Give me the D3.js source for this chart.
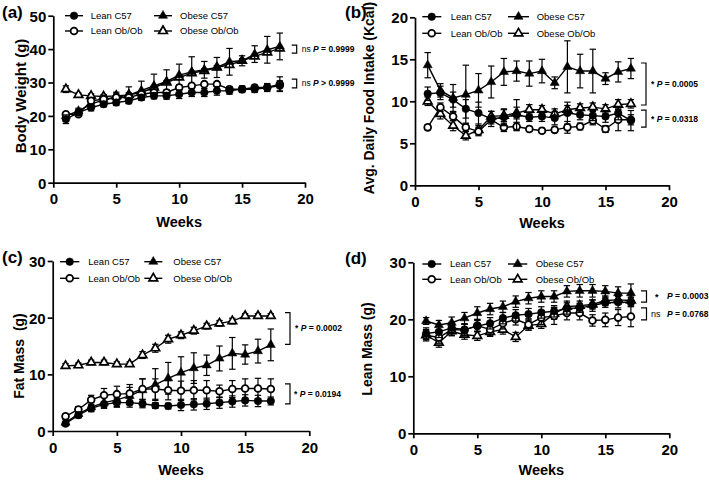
<!DOCTYPE html>
<html><head><meta charset="utf-8">
<script src="https://cdn.jsdelivr.net/npm/d3@7"></script>
<style>body{margin:0;background:#fff}svg{display:block;font-family:"Liberation Sans",Arial,sans-serif}</style>
</head><body><svg id="c" width="709" height="480"></svg>
<script>
const weeks18 = [1,2,3,4,5,6,7,8,9,10,11,12,13,14,15,16,17,18];
const weeks17 = [1,2,3,4,5,6,7,8,9,10,11,12,13,14,15,16,17];
const seriesNames = ["Lean C57","Lean Ob/Ob","Obese C57","Obese Ob/Ob"];
const xTicks = [0,5,10,15,20];

// (a) Body weight
const aLeanC57      = [19,21,22.5,23.5,24,24.5,25.5,26,26,26.5,27,27,27.5,27.5,28,28,28.5,29];
const aLeanC57Err   = [1.3,0.9,1,0.8,0.9,0.8,0.8,0.9,1,1.3,1.2,1.2,1.3,1,1,1,1.2,1.5];
const aLeanOb       = [20.5,20.5,24.5,25,25.5,25.5,26.5,27,27,28.5,29,29.5,29.5,28,28,28.5,28.5,29.5];
const aLeanObErr    = [0.6,0.6,0.8,0.8,0.8,0.8,0.8,0.8,0.8,0.8,0.6,0.6,0.6,0.8,0.8,0.7,0.8,2.2];
const aObeseC57     = [20,21.5,23.5,24.8,25.6,26.2,27.6,29,30.3,32.2,33.2,33.8,34.5,36.2,36.5,38.5,39.8,40.8];
const aObeseC57Err  = [1,0.8,1.2,1.3,1.5,2.5,2.8,3.5,3.5,3.3,4.5,2.5,3,4,1.5,2.5,4,4];
const aObeseOb      = [28,26.3,26,25.8,26,26.3,27,28.5,30,31.5,32.8,33.5,34.5,35.3,36.5,37.8,39,40.2];
const aObeseObErr   = [1,0.5,0.6,0.6,0.6,0.6,0.6,0.6,0.6,0.6,0.6,0.6,0.6,0.6,0.6,0.6,0.6,0.6];
const aYTicks = [0,10,20,30,40,50];

// (b) Avg. daily food intake
const bLeanC57      = [10.9,11,10.2,9.1,8.6,7.9,8.1,8.4,8.1,8.2,8.0,8.6,8.4,8.3,8.2,8.6,7.7];
const bLeanC57Err   = [0.8,0.8,0.9,1.1,1.3,0.9,1.0,1.8,0.5,0.6,0.8,1.3,0.6,0.6,0.7,0.8,1.2];
const bLeanOb       = [6.9,9.3,8.2,6.9,6.4,7.8,6.9,7.0,6.7,6.5,6.6,6.9,7.0,7.7,6.7,7.8,7.8];
const bLeanObErr    = [0.3,0.5,0.5,0.5,0.5,0.5,0.5,0.5,0.3,0.3,0.3,0.7,0.4,0.5,0.4,1.3,0.6];
const bObeseC57     = [14.3,11.3,10.4,10.8,11.3,12.3,13.5,13.6,13.3,13.6,12.2,14.1,13.6,13.6,12.7,13.5,13.9];
const bObeseC57Err  = [1.5,0.8,1.6,3.5,2,1.9,1.6,1.2,1.5,1.4,0.7,3.1,2,2.6,0.7,1.2,1.2];
const bObeseOb      = [10,8.5,7.1,5.9,6.6,8.2,8.3,8.6,9.0,9.0,8.5,9.0,9.2,9.3,9.1,9.6,9.7];
const bObeseObErr   = [0.5,0.6,0.6,0.5,0.5,0.6,0.7,0.7,0.6,0.5,0.6,0.5,0.5,0.5,0.5,0.6,0.5];
const bYTicks = [0,5,10,15,20];

// (c) Fat mass
const cLeanC57      = [1.3,2.8,4,4.7,5,5,4.8,4.5,4.4,4.6,4.7,4.8,5,5.2,5.4,5.3,5.3];
const cLeanC57Err   = [0.3,0.5,0.5,0.5,0.8,0.8,0.7,0.5,0.5,1,1,1,1,1,1,1,0.7];
const cLeanOb       = [2.6,3.8,5.5,6.3,6.5,6.6,7.4,7.4,7.2,7.1,7.2,7.2,7.0,7.4,7.5,7.5,7.4];
const cLeanObErr    = [0.4,0.5,0.8,1.2,1.4,1.6,1.8,1.8,1.7,1.7,1.7,1.7,1.1,1.5,1.7,1.8,1.8];
const cObeseC57     = [1.5,3,4.2,5,5.5,6.2,7.2,8.2,9.3,10.3,11.1,11.6,12.8,13.7,13.5,14.1,15.2];
const cObeseC57Err  = [0.5,0.6,0.8,1,1.2,1.5,2,2.8,2.8,2.8,2.7,1.8,2.2,2.8,1.7,2.1,2.8];
const cObeseOb      = [11.5,11.6,12.1,12.1,11.8,11.8,13.4,14.6,16.2,16.9,17.7,18.5,19,19.4,20.3,20.3,20.3];
const cObeseObErr   = [0.4,0.4,0.4,0.4,0.4,0.4,0.6,0.7,0.7,0.6,0.6,0.5,0.5,0.5,0.4,0.4,0.4];
const cYTicks = [0,10,20,30];

// (d) Lean mass
const dLeanC57      = [17.5,17.8,18.5,18.2,18.8,19.3,20.2,20.7,20.9,21.2,21.4,21.9,22,22.4,22.9,23,23];
const dLeanC57Err   = [1,1,1,1,1,1,1,1,1,1,1,1,0.8,1,0.8,1,0.8];
const dLeanOb       = [17.2,16.8,18.2,18.1,18.9,18.2,19.3,20,19.1,20.3,20.6,21.1,21.1,19.8,19.9,20.3,20.5];
const dLeanObErr    = [1,1,1,1,1,1,1,1,1,1.2,1.5,1.2,1.2,1,1.2,1.4,1.8];
const dObeseC57     = [19.7,19.0,19.4,20.2,21.1,21.8,22.2,23.1,23.7,24.0,24.0,24.9,25.0,25.0,24.9,24.6,24.6];
const dObeseC57Err  = [0.6,0.8,1.0,1.0,1.1,1.0,1.0,1.0,1.0,1.0,1.0,1.0,1.1,1.1,1.0,1.1,1.6];
const dObeseOb      = [17.2,15.9,17.9,17.3,17.1,17.8,18.2,16.9,18.9,19.2,21,22.2,22.4,22.6,23.3,23.4,23.3];
const dObeseObErr   = [0.8,0.8,0.8,0.8,0.8,0.8,0.8,0.8,0.8,0.8,1,1,0.8,0.8,0.8,0.8,0.8];
const dYTicks = [0,10,20,30];

const styles = [
  {shape:"circle", filled:true},
  {shape:"circle", filled:false},
  {shape:"triangle", filled:true},
  {shape:"triangle", filled:false}
];

const panels = [
  {label:"(a)", lx:2, ly:18, x0:53.3, x1:305, yb:182.7, yt:15.7, ymax:50, yTicks:aYTicks,
   ytitle:"Body Weight (g)", ytx:26, yty:96, ytfs:15, weeksY:227, weeks:weeks18,
   data:[[aLeanC57,aLeanC57Err],[aLeanOb,aLeanObErr],[aObeseC57,aObeseC57Err],[aObeseOb,aObeseObErr]],
   leg:{rows:[15.7,31], c1:[65,83,74,90.7], c2:[154,172,163,180]},
   brackets:[{x:291.7, w:5, ya:41.2, yb:38.8, parts:[["ns ","n"],["P","bi"],[" = 0.9999","b"]], tx:301.7},
             {x:291.7, w:5, ya:31, yb:28.4, parts:[["ns ","n"],["P","bi"],[" > 0.9999","b"]], tx:301.7}]},
  {label:"(b)", lx:345, ly:18, x0:415, x1:669, yb:185.3, yt:17.3, ymax:20, yTicks:bYTicks,
   ytitle:"Avg. Daily Food Intake (Kcal)", ytx:374, yty:98, ytfs:14, weeksY:228, weeks:weeks17,
   data:[[bLeanC57,bLeanC57Err],[bLeanOb,bLeanObErr],[bObeseC57,bObeseC57Err],[bObeseOb,bObeseObErr]],
   leg:{rows:[16.7,33.3], c1:[422.3,441.3,431.7,450.7], c2:[508,529,518.5,536.7]},
   brackets:[{x:641, w:5, ya:14.56, yb:9.56, parts:[["* ","b"],["P","bi"],[" = 0.0005","b"]], tx:651},
             {x:641, w:5, ya:8.96, yb:6.93, parts:[["* ","b"],["P","bi"],[" = 0.0318","b"]], tx:651}]},
  {label:"(c)", lx:2, ly:263, x0:52.7, x1:309.3, yb:431, yt:261, ymax:30, yTicks:cYTicks,
   ytitle:"Fat Mass  (g)", ytx:24, yty:356, ytfs:14, weeksY:475, weeks:weeks17,
   data:[[cLeanC57,cLeanC57Err],[cLeanOb,cLeanObErr],[cObeseC57,cObeseC57Err],[cObeseOb,cObeseObErr]],
   leg:{rows:[261.7,278.3], c1:[60,79.3,69.7,88.3], c2:[144.3,162.3,153.3,173.3]},
   brackets:[{x:285, w:5, ya:20.9, yb:15.3, parts:[["* ","b"],["P","bi"],[" = 0.0002","b"]], tx:295},
             {x:285, w:5, ya:8.3, yb:4.8, parts:[["* ","b"],["P","bi"],[" = 0.0194","b"]], tx:294}]},
  {label:"(d)", lx:345, ly:264, x0:413.3, x1:669.3, yb:433.3, yt:262.3, ymax:30, yTicks:dYTicks,
   ytitle:"Lean Mass (g)", ytx:372, yty:349, ytfs:14, weeksY:475, weeks:weeks17,
   data:[[dLeanC57,dLeanC57Err],[dLeanOb,dLeanObErr],[dObeseC57,dObeseC57Err],[dObeseOb,dObeseObErr]],
   leg:{rows:[264,279.3], c1:[422.3,441.3,431.7,450], c2:[508,527.3,517.7,535.7]},
   brackets:[{x:641, w:5.5, ya:25.0, yb:23.0, star:"*", sx:655, parts:[["P","bi"],[" = 0.0003","b"]], tx:667},
             {x:641, w:5.5, ya:22.0, yb:19.9, star:"ns", sx:651, parts:[["P","bi"],[" = 0.0768","b"]], tx:667}]}
];

const svg = d3.select("#c");
svg.append("rect").attr("width",709).attr("height",480).attr("fill","#fff");

function marker(g, st, cx, cy) {
  if (st.shape === "circle") {
    g.append("circle").attr("cx",cx).attr("cy",cy).attr("r", st.filled ? 3.8 : 3.4)
      .attr("fill", st.filled ? "#000" : "#fff").attr("stroke","#000").attr("stroke-width", st.filled ? 0.5 : 1.8);
  } else {
    g.append("path").attr("d", d3.symbol(d3.symbolTriangle, st.filled ? 36 : 32)())
      .attr("transform",`translate(${cx},${cy})`)
      .attr("fill", st.filled ? "#000" : "#fff").attr("stroke","#000")
      .attr("stroke-width", st.filled ? 0.5 : 1.7).attr("stroke-linejoin","miter");
  }
}

panels.forEach(p => {
  const g = svg.append("g");
  const x = d3.scaleLinear().domain([0,20]).range([p.x0,p.x1]);
  const y = d3.scaleLinear().domain([0,p.ymax]).range([p.yb,p.yt]);

  // axes
  const yax = g.append("g").attr("transform",`translate(${p.x0},0)`)
    .call(d3.axisLeft(y).tickValues(p.yTicks).tickSize(5).tickPadding(2).tickSizeOuter(0));
  const xax = g.append("g").attr("transform",`translate(0,${p.yb})`)
    .call(d3.axisBottom(x).tickValues(xTicks).tickSize(5).tickPadding(6).tickSizeOuter(0));
  [yax,xax].forEach(a => {
    a.select(".domain").attr("stroke","#000").attr("stroke-width",1.7);
    a.selectAll(".tick line").attr("stroke","#000").attr("stroke-width",1.7);
    a.selectAll(".tick text").attr("fill","#000").attr("font-size",15).attr("font-weight","bold")
      .attr("font-family","Liberation Sans, Arial, sans-serif");
  });
  yax.selectAll(".tick text").attr("dy","0.36em");

  // titles
  g.append("text").attr("x",p.lx).attr("y",p.ly).attr("font-size",17).attr("font-weight","bold").text(p.label);
  g.append("text").attr("transform",`translate(${p.ytx},${p.yty}) rotate(-90)`).attr("text-anchor","middle")
    .attr("font-size",p.ytfs).attr("font-weight","bold").style("white-space","pre").text(p.ytitle);
  g.append("text").attr("x",(p.x0+p.x1)/2).attr("y",p.weeksY).attr("text-anchor","middle")
    .attr("font-size",14.5).attr("font-weight","bold").text("Weeks");

  // series: later data sets drawn first so the first data set sits in front
  const order = [3,2,1,0];
  order.forEach(si => {
    const [vals, errs] = p.data[si];
    const st = styles[si];
    const pts = p.weeks.map((w,i) => ({w, v:vals[i], e:errs[i]}));
    const sg = g.append("g");
    sg.append("path").datum(pts)
      .attr("d", d3.line().x(d => x(d.w)).y(d => y(d.v)))
      .attr("fill","none").attr("stroke","#000").attr("stroke-width",1.4);
    pts.forEach(d => {
      const xx = x(d.w), ya = y(d.v + d.e), yb = y(d.v - d.e);
      sg.append("line").attr("x1",xx).attr("x2",xx).attr("y1",ya).attr("y2",yb).attr("stroke","#000").attr("stroke-width",1.2);
      [ya,yb].forEach(yy => sg.append("line").attr("x1",xx-3.2).attr("x2",xx+3.2).attr("y1",yy).attr("y2",yy)
        .attr("stroke","#000").attr("stroke-width",1.2));
    });
    pts.forEach(d => marker(sg, st, x(d.w), y(d.v)));
  });

  // legend
  seriesNames.forEach((name, si) => {
    const col = si < 2 ? p.leg.c1 : p.leg.c2;
    const ry = p.leg.rows[si % 2];
    g.append("line").attr("x1",col[0]).attr("x2",col[1]).attr("y1",ry).attr("y2",ry).attr("stroke","#000").attr("stroke-width",1.4);
    marker(g, styles[si], col[2], ry);
    g.append("text").attr("x",col[3]).attr("y",ry).attr("dy","0.35em").attr("font-size",9.5).text(name);
  });

  // brackets
  p.brackets.forEach(b => {
    const ya = y(b.ya), yb2 = y(b.yb);
    g.append("path").attr("d",`M${b.x},${ya}H${b.x+b.w}V${yb2}H${b.x}`)
      .attr("fill","none").attr("stroke","#000").attr("stroke-width",1.2);
    const ty = (ya+yb2)/2;
    if (b.star) {
      g.append("text").attr("x",b.sx).attr("y",ty).attr("dy","0.35em").attr("font-size",9)
        .attr("font-weight", b.star === "*" ? "bold" : "normal").text(b.star);
    }
    const t = g.append("text").attr("x",b.tx).attr("y",ty).attr("dy","0.35em").attr("font-size",8.5).style("white-space","pre");
    b.parts.forEach(([s,f]) => {
      t.append("tspan").attr("font-weight", f==="n" ? "normal" : "bold")
        .attr("font-style", f==="bi" ? "italic" : "normal").text(s);
    });
  });
});
</script></body></html>
